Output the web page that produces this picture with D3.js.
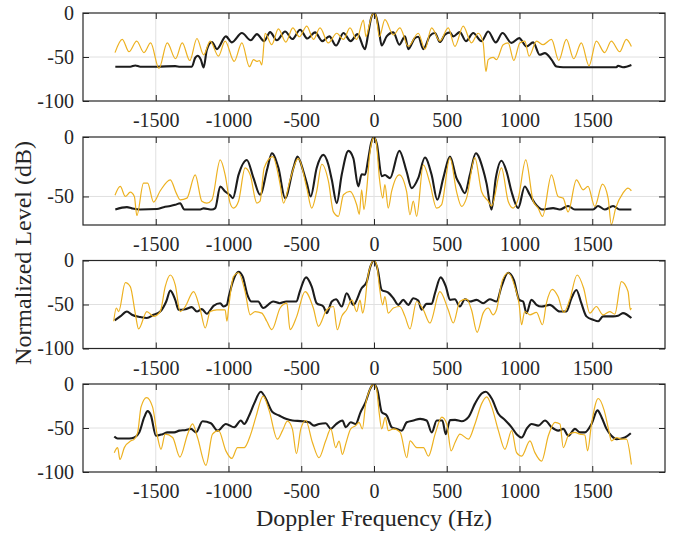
<!DOCTYPE html>
<html>
<head>
<meta charset="utf-8">
<script src="https://cdn.jsdelivr.net/npm/d3@7"></script>
<style>
  body { margin: 0; background: #fff; }
  svg text { font-family: "Liberation Serif", "Times New Roman", serif !important; fill: #262626; }
</style>
</head>
<body>
<svg width="688" height="533"></svg>
<script>
// spectra: [doppler frequency (Hz), normalized level (dB)]
var p1Black = [[-1778,-61],[-1675,-61],[-1641,-59.7],[-1606,-61],[-1492,-61],[-1366,-60.4],[-1332,-61],[-1252,-61],[-1229,-51],[-1213,-48.6],[-1190,-53],[-1171,-62],[-1149,-42],[-1114,-33],[-1080,-41],[-1018,-26.6],[-977,-33.4],[-908,-22.8],[-847,-31],[-805,-24],[-755,-32],[-714,-21.7],[-668,-31],[-611,-21],[-561,-29.6],[-508,-19],[-458,-29],[-405,-22],[-355,-32],[-307,-26.6],[-261,-37],[-210,-22.8],[-160,-32],[-114,-24],[-62,-41],[-39,-22.8],[-20,-6],[0,0],[15,-4],[30,-15],[53,-37],[87,-26.6],[133,-22],[174,-36],[213,-26.6],[236,-41],[281,-28.5],[304,-27],[339,-41],[384,-26],[419,-22.8],[453,-33],[487,-24.7],[522,-22],[545,-26.6],[590,-21.7],[632,-32],[682,-22.8],[739,-32],[785,-21],[837,-33.4],[883,-22.8],[945,-34],[998,-28.5],[1048,-38],[1094,-33.4],[1139,-47.5],[1174,-45.6],[1220,-53],[1254,-60.8],[1300,-61.6],[1666,-61.6],[1677,-60],[1711,-61.6],[1769,-59]];
var p1Orange = [[-1780,-45],[-1730,-30],[-1684,-44],[-1631,-32],[-1581,-45],[-1535,-34],[-1478,-63],[-1421,-34],[-1364,-52],[-1318,-34],[-1266,-54],[-1217,-29],[-1171,-47.5],[-1126,-32],[-1069,-49],[-1023,-32],[-961,-55],[-908,-34],[-856,-61],[-828,-53],[-805,-55],[-787,-54],[-771,-59],[-748,-23],[-703,-36],[-657,-18],[-606,-33],[-558,-17],[-513,-27],[-462,-15],[-416,-30],[-371,-17],[-314,-34],[-256,-23],[-210,-30],[-165,-17],[-119,-30],[-73,-8],[-55,-27],[-30,-12],[-15,-3],[0,0],[15,-4],[37,-27],[75,-7.6],[133,-25],[178,-17],[236,-38],[304,-23],[350,-41],[396,-17],[453,-32],[510,-17],[556,-38],[613,-15],[670,-34],[716,-23],[750,-34],[769,-66.5],[785,-53],[819,-50.5],[842,-53],[888,-36],[922,-34],[961,-54],[1002,-34],[1036,-32],[1066,-49],[1117,-32],[1162,-36],[1220,-30],[1270,-54],[1322,-30],[1373,-52],[1425,-34],[1478,-60],[1528,-32],[1585,-45],[1631,-32],[1689,-44],[1734,-30],[1769,-38]];

var p2Black = [[-1778,-61],[-1698,-59],[-1664,-60],[-1606,-61],[-1492,-60.6],[-1446,-59],[-1400,-58],[-1366,-57],[-1332,-55.7],[-1304,-61],[-1194,-61],[-1171,-60],[-1114,-61],[-1091,-59.8],[-1057,-41.6],[-1023,-45.8],[-989,-49],[-970,-51.4],[-931,-31.8],[-874,-19.3],[-828,-34.6],[-783,-48.6],[-732,-26],[-702,-13.7],[-657,-26],[-611,-51.4],[-554,-26],[-526,-16.5],[-485,-29],[-462,-38.8],[-435,-50],[-394,-26],[-348,-15],[-313,-23.5],[-290,-36],[-256,-55.6],[-222,-31.8],[-176,-11.7],[-142,-17.9],[-108,-41.6],[-85,-31.3],[-62,-31.8],[-39,-18],[-20,-5],[0,0],[20,-6],[53,-33],[75,-32],[110,-34.6],[174,-11.7],[224,-29],[259,-43],[304,-34.6],[350,-17.3],[396,-31.8],[435,-52.8],[476,-34.6],[522,-16.5],[567,-34.6],[590,-40],[625,-47.2],[659,-31.8],[700,-13.7],[750,-27.6],[773,-38.8],[808,-61],[837,-34.6],[876,-20],[911,-29],[945,-45.8],[991,-59.8],[1036,-41.6],[1071,-48.6],[1105,-55.6],[1162,-61],[1231,-59.8],[1277,-61],[1334,-58],[1380,-61],[1506,-61],[1540,-58],[1586,-61],[1643,-58],[1689,-61],[1769,-61]];
var p2Orange = [[-1780,-49],[-1744,-41.6],[-1709,-50],[-1675,-46.4],[-1647,-50],[-1630,-66],[-1584,-38.8],[-1556,-38.8],[-1515,-54.7],[-1469,-45.2],[-1400,-36],[-1359,-47.2],[-1332,-52.8],[-1286,-51.4],[-1229,-31.8],[-1183,-54],[-1149,-55.6],[-1114,-52.8],[-1057,-19.3],[-1023,-31.8],[-989,-55.6],[-966,-59.8],[-931,-54],[-886,-26],[-851,-31.8],[-805,-55.6],[-783,-54],[-755,-26],[-696,-16.5],[-645,-40],[-622,-55.6],[-577,-36],[-520,-17.9],[-462,-43],[-428,-59.8],[-394,-45.8],[-359,-22.9],[-313,-37.4],[-279,-63],[-245,-66.7],[-210,-48.6],[-165,-45.8],[-119,-57],[-101,-65],[-85,-44.4],[-69,-61],[-50,-44],[-30,-15],[-15,-4],[0,0],[15,-4],[37,-34.6],[60,-51.4],[75,-40],[98,-59.8],[121,-45.8],[174,-31.8],[224,-45.8],[247,-65.4],[270,-54],[293,-66.7],[339,-23.5],[384,-38.8],[430,-59.8],[464,-57],[522,-17.3],[567,-45.8],[602,-58.4],[636,-51.4],[693,-17.3],[739,-45.8],[785,-54],[808,-58],[876,-26],[922,-54],[956,-59.8],[991,-52],[1043,-19.3],[1094,-54],[1128,-59.8],[1158,-66.7],[1220,-31.8],[1265,-50],[1300,-51.4],[1334,-63],[1391,-36],[1437,-44.4],[1471,-41.6],[1517,-58.4],[1570,-39.7],[1609,-51.4],[1631,-73.7],[1661,-59.8],[1711,-47.2],[1746,-43],[1769,-45.2]];

var p3Black = [[-1782,-68],[-1744,-63.5],[-1698,-58],[-1664,-61.7],[-1606,-64.3],[-1561,-65.4],[-1515,-61.7],[-1469,-58],[-1428,-46.6],[-1400,-34.2],[-1366,-44.7],[-1343,-56],[-1297,-55.3],[-1252,-53],[-1217,-58],[-1183,-55.3],[-1149,-60.5],[-1103,-51.5],[-1057,-48.5],[-1034,-52.3],[-1011,-50.4],[-998,-41],[-966,-22],[-931,-12.8],[-902,-18.4],[-870,-39],[-842,-46.6],[-796,-46.6],[-762,-54],[-693,-46.6],[-648,-48.5],[-602,-46.6],[-533,-46.6],[-510,-35.3],[-467,-19.2],[-428,-29.7],[-394,-48.5],[-348,-52.3],[-325,-59.8],[-290,-46.6],[-261,-44],[-222,-52.3],[-188,-37.2],[-142,-50.4],[-85,-31.6],[-50,-24],[-25,-7],[0,0],[25,-10],[53,-33.5],[98,-36.5],[133,-42.9],[167,-50.4],[201,-44.7],[236,-50.4],[270,-42.9],[304,-45.5],[327,-56],[361,-49.3],[396,-49.3],[419,-37.2],[458,-19.2],[494,-29.7],[522,-44.7],[556,-44],[590,-52.3],[625,-44],[659,-46.6],[705,-44.7],[750,-48.5],[796,-44],[842,-46.6],[876,-29.7],[922,-13.9],[961,-22],[998,-44.7],[1025,-46.6],[1048,-59.8],[1082,-44.7],[1117,-50.4],[1151,-52.3],[1208,-50.4],[1277,-58],[1322,-58],[1357,-42.9],[1391,-33.5],[1425,-48.5],[1460,-63.5],[1506,-67.3],[1540,-69],[1574,-63.5],[1643,-63.5],[1677,-62.8],[1711,-59.8],[1769,-65.4]];
var p3Orange = [[-1789,-69],[-1771,-54],[-1755,-58],[-1709,-25.2],[-1675,-29.7],[-1641,-59.8],[-1618,-77.8],[-1561,-58],[-1515,-63.5],[-1469,-58],[-1435,-29.7],[-1400,-16.5],[-1366,-27.8],[-1332,-58],[-1297,-52.3],[-1240,-35.3],[-1194,-56],[-1160,-76.7],[-1126,-58],[-1080,-56],[-1023,-56],[-1011,-69],[-998,-52],[-966,-18.4],[-931,-13.9],[-886,-35.3],[-851,-61.7],[-817,-58],[-771,-59.8],[-737,-69],[-702,-78.6],[-645,-54],[-599,-48.5],[-577,-78.6],[-531,-63.5],[-474,-35.3],[-417,-54],[-382,-74.8],[-325,-56],[-279,-52.3],[-252,-78.6],[-222,-63.5],[-188,-56],[-153,-44.7],[-119,-58],[-96,-45],[-78,-59.8],[-62,-48],[-46,-22],[-22,-5],[0,0],[20,-6],[37,-29.7],[60,-50.4],[75,-41],[98,-59.8],[133,-54],[178,-52.3],[213,-63.5],[247,-77.8],[293,-46.6],[339,-56],[384,-71],[453,-35.3],[510,-56],[545,-71],[590,-46.6],[636,-44],[670,-56],[709,-81.6],[750,-59.8],[785,-54],[819,-61.7],[842,-56],[883,-22],[922,-13.9],[968,-29.7],[998,-50.4],[1014,-73],[1036,-58],[1071,-61.7],[1117,-59],[1158,-73],[1185,-48.5],[1226,-32.7],[1265,-41],[1304,-59],[1345,-44.7],[1396,-16.5],[1441,-31.6],[1483,-59.8],[1528,-52.3],[1574,-61.7],[1620,-58],[1655,-61],[1700,-24],[1746,-35.3],[1762,-56],[1769,-54]];

var p4Black = [[-1785,-59.6],[-1762,-62],[-1682,-62],[-1647,-60.8],[-1613,-55],[-1579,-37.7],[-1556,-30.8],[-1533,-35.8],[-1499,-58.8],[-1453,-57],[-1419,-55],[-1373,-55],[-1338,-53],[-1293,-52.3],[-1258,-51],[-1224,-55],[-1178,-42.3],[-1121,-44.6],[-1075,-53],[-1018,-45.4],[-961,-49.2],[-915,-41.5],[-892,-45.4],[-858,-35.8],[-824,-22.3],[-778,-8.8],[-744,-16.5],[-698,-31.9],[-652,-35.8],[-606,-39.6],[-561,-41.5],[-492,-42.3],[-446,-43.5],[-412,-47.3],[-378,-45.4],[-332,-44.6],[-297,-51],[-263,-46],[-217,-41.5],[-194,-49.2],[-160,-43.5],[-126,-45.4],[-92,-31.9],[-57,-20.4],[-25,-5],[0,0],[25,-8],[53,-31.9],[88,-35.8],[122,-49.2],[157,-51],[191,-53],[225,-43.5],[271,-41.5],[317,-39.6],[362,-41.5],[397,-55],[431,-41.5],[470,-41.5],[493,-57],[523,-41],[557,-40.8],[603,-42.3],[649,-37.7],[694,-22.3],[740,-10.8],[768,-8.8],[809,-16.5],[855,-33.8],[900,-40.8],[946,-49.2],[980,-57],[1015,-60.8],[1049,-51],[1083,-45.4],[1129,-47.3],[1175,-41.5],[1221,-49.2],[1266,-53],[1301,-51],[1335,-58.8],[1381,-51],[1415,-55],[1449,-55],[1495,-45.4],[1536,-30],[1564,-37.7],[1598,-51],[1632,-58.8],[1667,-62.7],[1724,-60.8],[1765,-56]];
var p4Orange = [[-1785,-78],[-1762,-72.3],[-1746,-85.8],[-1716,-72.3],[-1670,-64.6],[-1647,-62.7],[-1624,-55],[-1601,-26],[-1563,-15.4],[-1522,-26],[-1487,-60.8],[-1464,-74.2],[-1435,-57],[-1384,-60.8],[-1334,-83],[-1281,-57],[-1247,-45.4],[-1213,-60.8],[-1155,-92.3],[-1110,-57],[-1068,-53],[-1018,-76],[-977,-84.6],[-938,-72.3],[-892,-72.3],[-847,-57],[-812,-37.7],[-762,-13.8],[-721,-30],[-664,-62.7],[-629,-53],[-595,-42.3],[-561,-51],[-533,-79.2],[-503,-51],[-469,-41.5],[-423,-66.5],[-378,-83.8],[-332,-64.6],[-297,-51],[-263,-72.3],[-240,-65],[-217,-80],[-194,-68],[-160,-51],[-126,-47.3],[-103,-43.5],[-80,-51],[-57,-22.3],[-25,-5],[0,0],[18,-6],[35,-31.9],[53,-51],[77,-38],[99,-53],[134,-51],[180,-55],[225,-83.8],[248,-64.6],[294,-72.3],[340,-72.3],[374,-82],[420,-57],[466,-37.7],[500,-45.4],[530,-76],[557,-66.5],[591,-57],[649,-62.7],[694,-45.4],[740,-22.3],[775,-14.6],[809,-26],[855,-53],[900,-74.2],[946,-53],[980,-78],[1015,-82],[1072,-64.6],[1106,-78],[1152,-87.7],[1198,-58.8],[1244,-43.5],[1278,-45.4],[1301,-72.3],[1340,-57],[1381,-55],[1415,-57],[1449,-58],[1468,-76],[1495,-45.4],[1541,-16.5],[1582,-30],[1614,-53],[1632,-64.6],[1667,-60.8],[1701,-62.7],[1735,-62.7],[1769,-91.5]];

// axis ticks
var xTicks = [-1500, -1000, -500, 0, 500, 1000, 1500];
var yTicksFull = [-100, -50, 0];
var yTicksShort = [-50, 0];

var panels = [
  {black: p1Black, orange: p1Orange, yMin: -100, yTicks: yTicksFull},
  {black: p2Black, orange: p2Orange, yMin: -74, yTicks: yTicksShort},
  {black: p3Black, orange: p3Orange, yMin: -100, yTicks: yTicksFull},
  {black: p4Black, orange: p4Orange, yMin: -100, yTicks: yTicksFull}
];

var left = 83, right = 665, h = 88;
var tops = [13, 137, 260.5, 384];
var gridColor = "#e0e0e0", axisColor = "#262626";
var serif = "'Liberation Serif', 'Times New Roman', serif";

var svg = d3.select("svg");
var x = d3.scaleLinear().domain([-2000, 2000]).range([left, right]);

panels.forEach(function(p, i) {
  var top = tops[i], bottom = top + h;
  var y = d3.scaleLinear().domain([p.yMin, 0]).range([bottom, top]);
  var g = svg.append("g");

  // grid lines
  g.selectAll("line.gx")
    .data(xTicks)
    .enter()
    .append("line")
      .attr("x1", function(d) { return x(d); })
      .attr("x2", function(d) { return x(d); })
      .attr("y1", top).attr("y2", bottom)
      .attr("stroke", gridColor).attr("stroke-width", 1);
  g.selectAll("line.gy")
    .data(p.yTicks.filter(function(d) { return d > p.yMin && d < 0; }))
    .enter()
    .append("line")
      .attr("x1", left).attr("x2", right)
      .attr("y1", function(d) { return y(d); })
      .attr("y2", function(d) { return y(d); })
      .attr("stroke", gridColor).attr("stroke-width", 1);

  // clip the traces to the axes box
  svg.append("clipPath").attr("id", "clip" + i)
    .append("rect")
      .attr("x", left).attr("y", top)
      .attr("width", right - left).attr("height", h);

  var line = d3.line()
    .x(function(d) { return x(d[0]); })
    .y(function(d) { return y(d[1]); })
    .curve(d3.curveMonotoneX);

  g.append("path")
    .datum(p.black)
    .attr("clip-path", "url(#clip" + i + ")")
    .attr("d", line)
    .attr("fill", "none")
    .attr("stroke", "#1c1c1c")
    .attr("stroke-width", 2.1);

  g.append("path")
    .datum(p.orange)
    .attr("clip-path", "url(#clip" + i + ")")
    .attr("d", line)
    .attr("fill", "none")
    .attr("stroke", "#EDB120")
    .attr("stroke-width", 1.2);

  // axes on all four sides, ticks pointing inward
  var axB = g.append("g").attr("transform", "translate(0," + bottom + ")")
    .call(d3.axisBottom(x).tickValues(xTicks).tickSize(-6).tickPadding(12));
  var axT = g.append("g").attr("transform", "translate(0," + top + ")")
    .call(d3.axisTop(x).tickValues(xTicks).tickSize(-6).tickFormat(""));
  var axL = g.append("g").attr("transform", "translate(" + left + ",0)")
    .call(d3.axisLeft(y).tickValues(p.yTicks).tickSize(-6).tickPadding(9));
  var axR = g.append("g").attr("transform", "translate(" + right + ",0)")
    .call(d3.axisRight(y).tickValues(p.yTicks).tickSize(-6).tickFormat(""));

  [axB, axT, axL, axR].forEach(function(a) {
    a.attr("font-family", serif).attr("font-size", 20);
    a.select(".domain").remove();
    a.selectAll("line").attr("stroke", axisColor);
    a.selectAll("text")
      .attr("font-family", serif)
      .attr("font-size", 20)
      .attr("fill", axisColor);
  });
  // plain hyphen for negatives, as in the original
  axL.selectAll("text").text(function(d) { return String(d); });
  axB.selectAll("text").text(function(d) { return String(d); });

  // box
  g.append("rect")
    .attr("x", left).attr("y", top)
    .attr("width", right - left).attr("height", h)
    .attr("fill", "none")
    .attr("stroke", axisColor)
    .attr("stroke-width", 1.2);
});

svg.append("text")
  .attr("x", (left + right) / 2)
  .attr("y", 526)
  .attr("text-anchor", "middle")
  .attr("font-family", serif)
  .attr("font-size", 24)
  .text("Doppler Frequency (Hz)");

svg.append("text")
  .attr("transform", "translate(31,253) rotate(-90)")
  .attr("text-anchor", "middle")
  .attr("font-family", serif)
  .attr("font-size", 24)
  .text("Normalized Level (dB)");
</script>
</body>
</html>
